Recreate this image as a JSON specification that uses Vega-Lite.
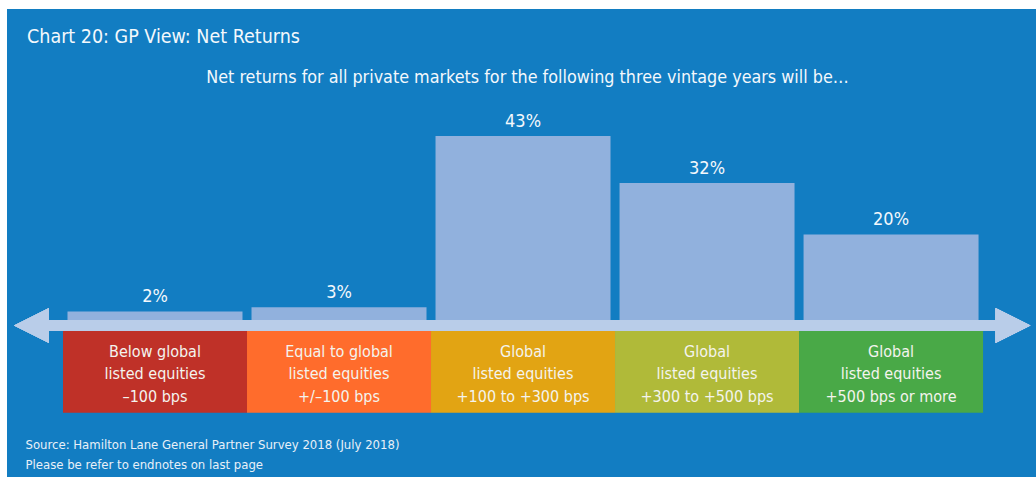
{
  "$schema": "https://vega.github.io/schema/vega-lite/v6.json",
  "autosize": "none",
  "width": 1029,
  "height": 468,
  "padding": {"left": 7, "top": 9, "right": 0, "bottom": 0},
  "background": "#ffffff",
  "config": {
    "font": "Liberation Sans Narrow, DejaVu Sans Condensed, Roboto",
    "view": {"fill": "#127dc2", "stroke": null}
  },
  "title": {
    "text": "Chart 20: GP View: Net Returns",
    "anchor": "start",
    "frame": "group",
    "orient": "top",
    "offset": -53,
    "dx": 20,
    "baseline": "alphabetic",
    "fontSize": 19.5,
    "fontWeight": "normal",
    "color": "#f4f8fc"
  },
  "data": {
    "values": [
      {"cat": "Below", "value": 2, "pct": "2%", "label": "Below global|listed equities|–100 bps"},
      {"cat": "Equal", "value": 3, "pct": "3%", "label": "Equal to global|listed equities|+/–100 bps"},
      {"cat": "+100 to +300", "value": 43, "pct": "43%", "label": "Global|listed equities|+100 to +300 bps"},
      {"cat": "+300 to +500", "value": 32, "pct": "32%", "label": "Global|listed equities|+300 to +500 bps"},
      {"cat": "+500 or more", "value": 20, "pct": "20%", "label": "Global|listed equities|+500 bps or more"}
    ]
  },
  "resolve": {"scale": {"x": "independent"}, "axis": {"x": "independent"}},
  "layer": [
    {
      "encoding": {
        "x": {
          "field": "cat",
          "type": "nominal",
          "sort": null,
          "scale": {"paddingInner": 0, "paddingOuter": 0.296, "align": 0.514},
          "axis": {
            "orient": "top",
            "labels": false,
            "ticks": false,
            "domain": false,
            "title": "Net returns for all private markets for the following three vintage years will be…",
            "titleFontSize": 17.8,
            "titleFontWeight": "normal",
            "titleColor": "#f4f8fc",
            "titleBaseline": "alphabetic",
            "titleX": 520,
            "titleY": 73
          }
        }
      },
      "layer": [
        {
          "mark": {"type": "bar", "width": {"band": 0.951}, "color": "#91b1dd"},
          "encoding": {
            "y": {"field": "value", "type": "quantitative", "scale": {"domain": [-36.7, 72.7], "nice": false, "zero": false}, "axis": null}
          }
        },
        {
          "mark": {"type": "text", "baseline": "alphabetic", "dy": -9, "fontSize": 18, "color": "#f4f8fc"},
          "encoding": {
            "y": {"field": "value", "type": "quantitative"},
            "text": {"field": "pct"}
          }
        },
        {
          "mark": {"type": "rect"},
          "encoding": {
            "y": {"datum": -2.57},
            "y2": {"datum": -21.7},
            "color": {
              "field": "cat",
              "type": "nominal",
              "scale": {
                "domain": ["Below", "Equal", "+100 to +300", "+300 to +500", "+500 or more"],
                "range": ["#bf3128", "#ff6c2c", "#e2a413", "#b0ba39", "#49a947"]
              },
              "legend": null
            }
          }
        },
        {
          "mark": {"type": "text", "lineBreak": "|", "lineHeight": 22.5, "baseline": "alphabetic", "align": "center", "fontSize": 16, "color": "#f4f4ee"},
          "encoding": {
            "y": {"datum": -8.64},
            "text": {"field": "label"}
          }
        }
      ]
    },
    {
      "encoding": {
        "x": {
          "datum": 0,
          "type": "quantitative",
          "scale": {"domain": [-0.804, 4.788], "nice": false, "zero": false},
          "axis": {
            "orient": "bottom",
            "labels": false,
            "ticks": false,
            "domain": false,
            "grid": false,
            "title": ["Source: Hamilton Lane General Partner Survey 2018 (July 2018)", "Please be refer to endnotes on last page"],
            "titleFontSize": 13,
            "titleFontWeight": "normal",
            "titleColor": "#e8f0f8",
            "titleAnchor": "start",
            "titleAlign": "left",
            "titleBaseline": "alphabetic",
            "titleLineHeight": 20,
            "titleX": 18,
            "titleY": -29
          }
        }
      },
      "layer": [
        {
          "mark": {"type": "rect", "color": "#b9cde9"},
          "encoding": {
            "x": {"datum": -0.58, "type": "quantitative"},
            "x2": {"datum": 4.58},
            "y": {"datum": 0},
            "y2": {"datum": -2.57}
          }
        },
        {
          "mark": {"type": "point", "shape": "M -1 0 L 1 -1 L 1 1 Z", "size": 1225, "filled": true, "opacity": 1, "strokeWidth": 0, "color": "#b9cde9"},
          "encoding": {
            "x": {"datum": -0.671, "type": "quantitative"},
            "y": {"datum": -1.29}
          }
        },
        {
          "mark": {"type": "point", "shape": "M 1 0 L -1 -1 L -1 1 Z", "size": 1225, "filled": true, "opacity": 1, "strokeWidth": 0, "color": "#b9cde9"},
          "encoding": {
            "x": {"datum": 4.663, "type": "quantitative"},
            "y": {"datum": -1.29}
          }
        }
      ]
    }
  ]
}
